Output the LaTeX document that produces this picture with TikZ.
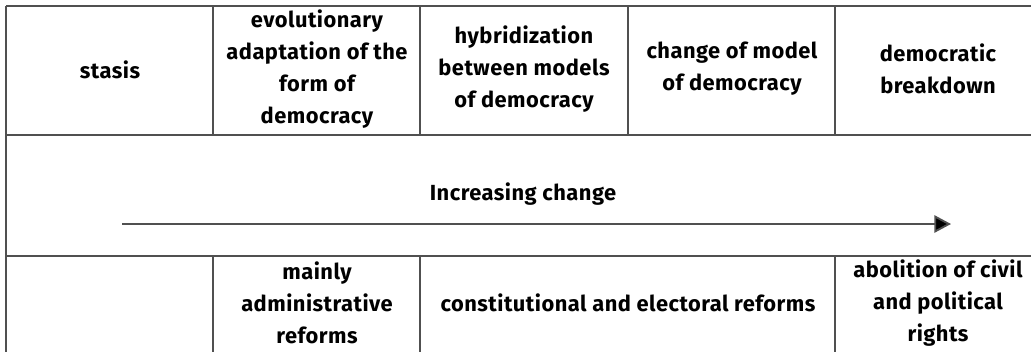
\documentclass[tikz,border=0pt]{standalone}
\usepackage{fontspec}
\setmainfont{Fira Sans}[LetterSpace=2.2]
\usetikzlibrary{arrows.meta}
\definecolor{rule}{HTML}{505050}
\tikzset{
  grid/.style={draw=rule, line width=1.2pt},
  cell/.style={align=center, font=\bfseries\fontsize{16.4}{24}\selectfont, inner sep=0pt},
}
\begin{document}
\begin{tikzpicture}[x=0.75pt,y=-0.75pt]
\useasboundingbox (0,0) rectangle (1031,351);
% grid
\draw[grid] (6,6) -- (1040,6);
\draw[grid] (6,135) -- (1040,135);
\draw[grid] (6,256) -- (1040,256);
\draw[grid] (6,6) -- (6,360);
\foreach \x in {213,420,628,835} \draw[grid] (\x,6) -- (\x,135);
\foreach \x in {213,420,835} \draw[grid] (\x,256) -- (\x,360);
% top row
\node[cell] (stasis) at (110,70) {stasis};
\node[cell] (evol) at (317,69) {evolutionary\\adaptation of the\\form of\\democracy};
\node[cell] (hyb) at (524,69) {hybridization\\between models\\of democracy};
\node[cell] (chg) at (732,69) {change of model\\of democracy};
\node[cell] (brk) at (938,69) {democratic\\breakdown};
% middle
\node[cell] (inc) at (523,194) {Increasing change};
\coordinate (a0) at (122,224);
\coordinate (a1) at (951,224);
\draw[draw=rule, line width=1.4pt, -{Triangle[length=12.5pt,width=13pt,fill=black]}] (a0) -- (a1);
% bottom row
\node[cell] (adm) at (317,303) {mainly\\administrative\\reforms};
\node[cell] (const) at (628,303) {constitutional and electoral reforms};
\node[cell] (abol) at (938,303) {abolition of civil\\and political\\rights};
\end{tikzpicture}
\end{document}
